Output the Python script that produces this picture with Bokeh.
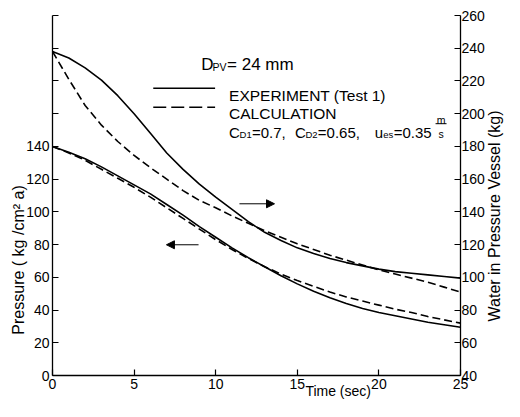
import math
from bokeh.plotting import figure
from bokeh.models import Range1d, LinearAxis, FixedTicker, Label, Arrow, NormalHead
from bokeh.embed import file_html
from bokeh.resources import INLINE

# ---------------- data ----------------
time_s = list(range(0, 26))
water_exp = [238, 234, 228, 220.5, 211, 200, 188, 176, 166, 157, 149, 141.5, 134,
             127.5, 122.5, 118, 114.5, 111.5, 109, 107, 105, 103.5, 102.5, 101.5, 100.5, 99.5]
water_calc = [238, 221, 205, 193, 183, 174.5, 167, 160, 153, 147, 142.5, 137.5, 133,
              128.5, 124.5, 120.5, 117, 113.5, 110.5, 107.5, 104.5, 102, 99.5, 97, 94, 91]
pressure_exp = [140, 136.5, 132.5, 127.5, 122, 116.5, 111, 104.5, 98, 91, 84.5, 78, 72,
                66.5, 61, 56, 51.5, 47.5, 44, 41, 38.5, 36.5, 34.5, 32.5, 31, 29.5]
pressure_calc = [140, 136, 131.5, 126, 120.5, 115, 109, 102.5, 96, 89.5, 83, 77, 71.5,
                 66.5, 62, 58, 54.5, 51, 48, 45.5, 43, 40.5, 38.5, 36, 34, 32]

time_ticks = [0, 5, 10, 15, 20, 25]
pressure_ticks = [0, 20, 40, 60, 80, 100, 120, 140, 160, 180, 200, 220]
pressure_hidden = [160, 180, 200, 220]
water_ticks = [40, 60, 80, 100, 120, 140, 160, 180, 200, 220, 240, 260]

FONT = "Liberation Sans"
NB = "\u00a0"

# layout of the plot frame on the canvas
FL, FR, FT, FB = 52, 461, 15, 376
W, H = 504, 401

def CX(px):   # canvas pixel -> data x
    return (px - FL) / (FR - FL) * 25.0
def CY(py):   # canvas pixel -> data y (pressure scale)
    return (FB - py) / (FB - FT) * 220.0
def RX(px):   # reference-picture pixel -> data x
    return (px - 53.0) / 419.0 * 25.0
def RY(py):   # reference-picture pixel -> data y
    return (386.0 - py) / 369.0 * 220.0

p = figure(width=W, height=H, output_backend="svg", toolbar_location=None,
           title=None, x_range=Range1d(0, 25), y_range=Range1d(0, 220),
           min_border_left=FL, min_border_right=W - FR, min_border_top=FT,
           min_border_bottom=H - FB)
p.extra_y_ranges = {"water": Range1d(40, 260)}
right_axis = LinearAxis(y_range_name="water", ticker=FixedTicker(ticks=water_ticks))
p.add_layout(right_axis, "right")

p.xgrid.visible = False
p.ygrid.visible = False
p.outline_line_color = None
p.background_fill_color = "white"
p.border_fill_color = "white"

p.xaxis.ticker = FixedTicker(ticks=time_ticks)
p.left[0].ticker = FixedTicker(ticks=pressure_ticks)
p.left[0].major_label_overrides = {v: "" for v in pressure_hidden}

for ax in p.axis:
    ax.major_tick_in = 6
    ax.major_tick_out = 0
    ax.minor_tick_line_color = None
    ax.axis_line_width = 1.3
    ax.axis_line_color = "black"
    ax.major_tick_line_width = 1.2
    ax.major_tick_line_color = "black"
    ax.major_label_text_font = FONT
    ax.major_label_text_font_size = "14px"
    ax.major_label_text_color = "black"
    ax.major_label_standoff = 3
    ax.axis_label_text_font = FONT
    ax.axis_label_text_font_style = "normal"
    ax.axis_label_text_color = "black"
right_axis.major_label_standoff = 1

# axis titles (shifted along the axes with no-break-space padding)
left_axis = p.left[0]
left_axis.axis_label = "Pressure ( kg /cm² a)" + NB * 29
left_axis.axis_label_text_font_size = "16px"
left_axis.axis_label_standoff = -4

bottom_axis = p.below[0]
bottom_axis.axis_label = NB * 42 + "Time (sec)"
bottom_axis.axis_label_text_font_size = "14px"
bottom_axis.axis_label_standoff = -9

# right title: a label living in the right side panel (not clipped to the frame)
p.add_layout(Label(x=CX(495), y=CY(216), text="Water in Pressure Vessel (kg)",
                   text_font=FONT, text_font_size="16px", text_align="center",
                   text_baseline="middle", angle=math.pi / 2, text_color="black"),
             "right")

# ---------------- curves ----------------
p.line(time_s, water_exp, y_range_name="water", line_color="black", line_width=1.6)
p.line(time_s, water_calc, y_range_name="water", line_color="black", line_width=1.6,
       line_dash="8 4")
p.line(time_s, pressure_exp, line_color="black", line_width=1.6)
p.line(time_s, pressure_calc, line_color="black", line_width=1.6, line_dash="8 4")

# ---------------- annotations ----------------
def lab(text, px, py, size, align="left", baseline="alphabetic"):
    p.add_layout(Label(x=CX(px), y=CY(py), text=text, text_font=FONT,
                       text_font_size=f"{size}px", text_align=align,
                       text_baseline=baseline, text_color="black"))

def seg(x0, y0, x1, y1, dash="solid", width=1.6, head=None):
    p.add_layout(Arrow(x_start=x0, y_start=y0, x_end=x1, y_end=y1,
                       end=head, line_color="black", line_width=width, line_dash=dash))

# header D_PV = 24 mm
lab("D", 201, 64.5, 17)
lab("PV", 212.5, 66.5, 10.5)
lab("= 24 mm", 227, 64.5, 17)

# key
seg(CX(153), CY(88), CX(215), CY(88))
seg(CX(153), CY(107), CX(215), CY(107), dash="13 5")
lab("EXPERIMENT (Test 1)", 229, 95.5, 15.5)
lab("CALCULATION", 229, 113, 15.5)

# coefficients line
lab("C", 229, 132, 15)
lab("D1", 239.5, 134.5, 9.5)
lab("=0.7,", 252, 132, 15)
lab("C", 295, 132, 15)
lab("D2", 305.5, 134.5, 9.5)
lab("=0.65,", 318, 132, 15)
lab("u", 375, 132, 15)
lab("es", 383.5, 134.5, 9.5)
lab("=0.35", 394, 132, 15)
lab("m", 441.5, 120, 10.5, "center")
seg(CX(436), CY(123.5), CX(447), CY(123.5), width=1.0)
lab("s", 441.5, 133.5, 10.5, "center")

# direction arrows (placed relative to the curves)
seg(RX(245), RY(210), RX(281), RY(210), width=1.0,
    head=NormalHead(size=8, fill_color="black", line_color="black"))
seg(RX(203), RY(252), RX(170), RY(252), width=1.0,
    head=NormalHead(size=8, fill_color="black", line_color="black"))

open("out.html", "w").write(file_html(p, INLINE))
